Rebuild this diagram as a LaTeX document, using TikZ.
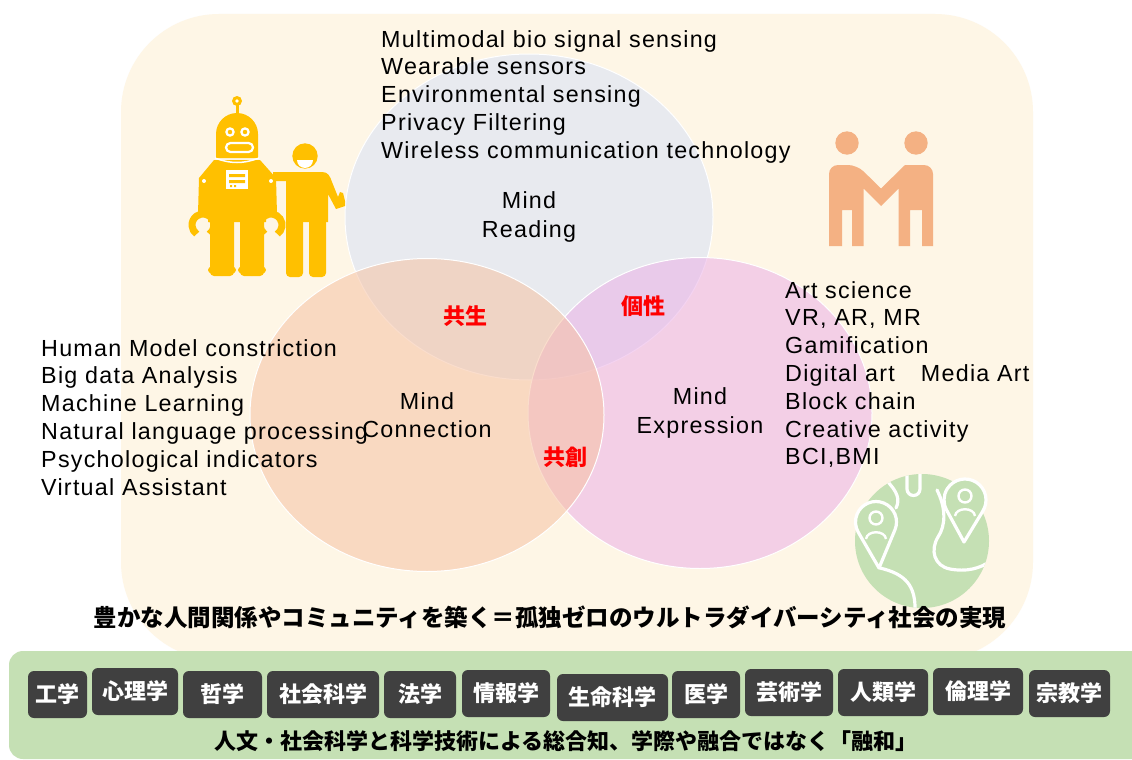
\documentclass[tikz,border=0pt]{standalone}
\usepackage{fontspec}
\setmainfont{Liberation Sans}[LetterSpace=5.4]
\newfontfamily\jp{Noto Sans CJK JP}
\usetikzlibrary{shapes.geometric}

\definecolor{cream}{HTML}{FEF6E6}
\definecolor{readgray}{HTML}{D7E1F7}
\definecolor{connorange}{HTML}{F6C2A3}
\definecolor{exprpink}{HTML}{EBB0E6}
\definecolor{barGreen}{HTML}{C5E0B4}
\definecolor{fieldgray}{HTML}{404040}
\definecolor{robotyellow}{HTML}{FFC000}
\definecolor{salmon}{HTML}{F4B183}

\begin{document}
\begin{tikzpicture}[x=1pt, y=-1pt]
	\tikzstyle{venn} = [shape = ellipse, draw = white, line width = 1pt, fill opacity = 0.55, text opacity = 1, inner sep = 0pt, align = center, font = \fontsize{23.3}{28.5}\selectfont]
	\tikzstyle{topic} = [anchor = north west, inner sep = 0pt, align = left, font = \fontsize{23.3}{27.8}\selectfont]
	\tikzstyle{overlap} = [text = red, inner sep = 0pt, font = \jp\bfseries\fontsize{22}{22}\selectfont]
	\tikzstyle{field} = [fill = fieldgray, rounded corners = 6pt, text = white, minimum height = 47pt, inner sep = 0pt, font = \jp\bfseries\fontsize{22}{22}\selectfont]
	\tikzstyle{banner} = [inner sep = 0pt, font = \jp\bfseries\fontsize{23.5}{23.5}\selectfont]
	\useasboundingbox (0,0) rectangle (1132,760);
	\clip (0,0) rectangle (1132,760);
	\fill[white] (0,0) rectangle (1132,760);
	\fill[cream, rounded corners = 98pt] (121,14) rectangle (1033,660);

	% the three minds
	\node[venn, fill = readgray, minimum width = 368pt, minimum height = 326pt] (reading) at (529,217) {Mind\\Reading};
	\node[venn, fill = exprpink, minimum width = 344pt, minimum height = 311pt] (expression) at (700,413) {Mind\\Expression};
	\node[venn, fill = connorange, minimum width = 354pt, minimum height = 313pt] (connection) at (427,415) {Mind\\Connection};

	\node[overlap] (kyosei) at (465,316) {共生};
	\node[overlap] (kosei) at (643,306) {個性};
	\node[overlap] (kyoso) at (565,457) {共創};

	\node[topic] (sensing) at (381,30) {Multimodal bio signal sensing\\Wearable sensors\\Environmental sensing\\Privacy Filtering\\Wireless communication technology};
	\node[topic] (model) at (41,339) {Human Model constriction\\Big data Analysis\\Machine Learning\\Natural language processing\\Psychological indicators\\Virtual Assistant};
	\node[topic] (art) at (785,281) {Art science\\VR, AR, MR\\Gamification\\Digital art\hspace{26pt}Media Art\\Block chain\\Creative activity\\BCI,BMI};

	% robot and friend
	\fill[robotyellow] (237,101) circle (5pt);
	\fill[white] (237,101) circle (1.8pt);
	\fill[robotyellow] (235.5,105) rectangle (238.5,116);
	\fill[robotyellow] (216,158) -- (216,134) arc[start angle = 180, end angle = 0, radius = 21pt] -- (258,158) -- cycle;
	\draw[white, line width = 2.2pt] (230,132) circle (3.6pt) (245,132) circle (3.6pt);
	\draw[white, line width = 2.2pt, rounded corners = 4.5pt] (226,143) rectangle (253,152);
	\fill[robotyellow] (214,160) -- (260,160) -- (276,178) -- (277,214) -- (266,214) -- (266,222) -- (208,222) -- (208,214) -- (198,214) -- (199,178) -- cycle;
	\draw[white, line width = 1.5pt] (215,158) .. controls (230,164) and (244,164) .. (259,158);
	\fill[white] (226,170) rectangle (248,189);
	\fill[robotyellow] (229,174) rectangle (245,177) (229,180) rectangle (245,183) (230,185) rectangle (232,187) (234,185) rectangle (236,187);
	\fill[white] (204,181) circle (2pt) (271,181) circle (2pt);
	\draw[robotyellow, line width = 7pt] (203,225) ++(-55:11pt) arc[start angle = -55, end angle = 235, radius = 11pt];
	\draw[robotyellow, line width = 7pt] (271,225) ++(-55:11pt) arc[start angle = -55, end angle = 235, radius = 11pt];
	\fill[robotyellow, rounded corners = 4pt] (210,218) rectangle (234,276) (240,218) rectangle (264,276);
	\fill[robotyellow] (222,270) ellipse [x radius = 14pt, y radius = 6pt] (252,270) ellipse [x radius = 14pt, y radius = 6pt];
	\fill[robotyellow] (305,156) circle (12.7pt);
	\fill[white] (297,160) arc[start angle = 180, end angle = 360, radius = 8pt] -- cycle;
	\fill[robotyellow] (273,172) -- (322,172) .. controls (328,172) and (330,176) .. (332,182) -- (338,197) -- (340,192) -- (343,193) -- (345,201) -- (345,206) -- (336,209) -- (328,194) -- (328,222) -- (286,222) -- (286,181) -- (273,181) -- cycle;
	\fill[robotyellow, rounded corners = 4pt] (286,218) rectangle (303,277) (309,218) rectangle (326,277);

	% two people holding hands
	\fill[salmon] (847,143) circle (11.7pt) (916,143) circle (11.7pt);
	\fill[salmon] (829,246) -- (829,190) [rounded corners = 9pt] -- (829,165) -- (857,165) [sharp corners] -- (881,188.5) -- (905,165) [rounded corners = 9pt] -- (933,165) -- (933,190) [sharp corners] -- (933,246) -- (922,246) -- (922,210) -- (910,210) -- (910,246) -- (898.5,246) -- (898.5,188.5) -- (881,206) -- (863.5,188.5) -- (863.5,246) -- (852,246) -- (852,210) -- (842,210) -- (842,246) -- cycle;

	% globe with pins
	\fill[barGreen] (922,541) circle (67pt);
	\begin{scope}[white, line width = 3.2pt, line cap = round]
		\clip (922,541) circle (67pt);
		\draw (907,474) -- (907,489) arc[start angle = 180, end angle = 360, radius = 6.5pt] -- (920,474);
		\draw (886,480) .. controls (898,492) and (900,500) .. (896,508);
		\draw (880,568) .. controls (905,574) and (916,585) .. (915,612);
		\draw (937,490) .. controls (946,508) and (946,525) .. (938,537) .. controls (930,550) and (934,566) .. (950,569) .. controls (966,572) and (980,569) .. (992,560);
	\end{scope}
	\filldraw[fill = barGreen, draw = white, line width = 3.2pt, line join = round] (876,522) ++(-22.7:20.5pt) arc[start angle = -22.7, end angle = 210.1, radius = 20.5pt] -- (879,568) -- cycle;
	\filldraw[fill = barGreen, draw = white, line width = 3.2pt, line join = round] (965,500) ++(-32.8:21pt) arc[start angle = -32.8, end angle = 210, radius = 21pt] -- (964,542) -- cycle;
	\draw[white, line width = 2.4pt] (876,518) circle (6.5pt) (866,539) .. controls (867,530) and (885,530) .. (886,539);
	\draw[white, line width = 2.4pt] (965,496) circle (6.5pt) (955,516) .. controls (956,507) and (974,507) .. (975,516);

	\node[banner] (society) at (550,617) {豊かな人間関係やコミュニティを築く＝孤独ゼロのウルトラダイバーシティ社会の実現};

	% fields of study
	\fill[barGreen, rounded corners = 14pt] (9,651) rectangle (1160,759);
	\foreach \lbl/\xa/\xb/\ya [count = \i] in {工学/28/87/671, 心理学/92/178/668, 哲学/183/262/671, 社会科学/267/379/671, 法学/384/456/671, 情報学/462/550/670, 生命科学/557/668/674, 医学/672/740/671, 芸術学/745/833/669, 人類学/838/928/669, 倫理学/933/1023/668, 宗教学/1029/1110/670}
		\node[field, minimum width = {\xb-\xa}] (f\i) at ({(\xa+\xb)/2},{\ya+23.5}) {\lbl};
	\node[banner, font = \jp\bfseries\fontsize{22}{22}\selectfont] (fusion) at (566,741) {人文・社会科学と科学技術による総合知、学際や融合ではなく「融和」};
\end{tikzpicture}
\end{document}
